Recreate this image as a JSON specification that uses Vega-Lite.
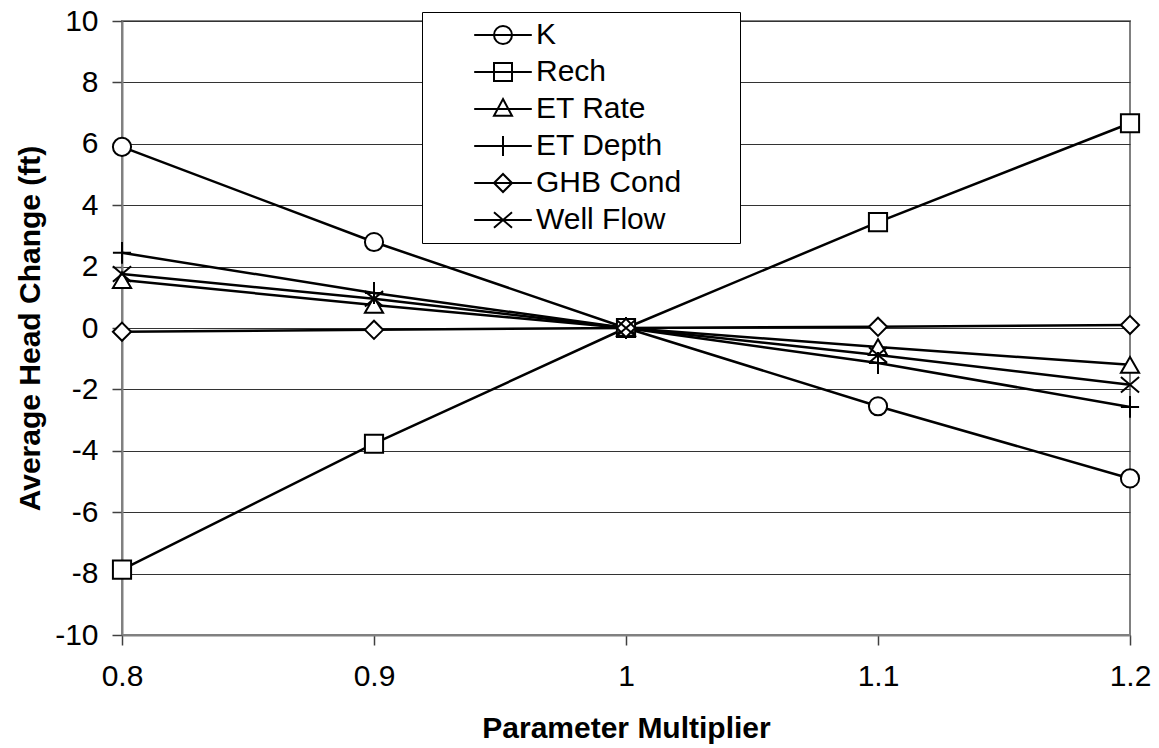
{
  "$schema": "https://vega.github.io/schema/vega-lite/v6.json",
  "width": 1008,
  "height": 614,
  "autosize": {"type": "none"},
  "padding": {"left": 122, "top": 21, "right": 29, "bottom": 113},
  "background": "white",
  "data": {
    "values": [
      {"m": 0.8, "series": "K", "v": 5.9},
      {"m": 0.9, "series": "K", "v": 2.8},
      {"m": 1.0, "series": "K", "v": 0},
      {"m": 1.1, "series": "K", "v": -2.55},
      {"m": 1.2, "series": "K", "v": -4.9},
      {"m": 0.8, "series": "Rech", "v": -7.87},
      {"m": 0.9, "series": "Rech", "v": -3.77},
      {"m": 1.0, "series": "Rech", "v": 0},
      {"m": 1.1, "series": "Rech", "v": 3.45},
      {"m": 1.2, "series": "Rech", "v": 6.67},
      {"m": 0.8, "series": "ET Rate", "v": 1.56},
      {"m": 0.9, "series": "ET Rate", "v": 0.75},
      {"m": 1.0, "series": "ET Rate", "v": 0},
      {"m": 1.1, "series": "ET Rate", "v": -0.62},
      {"m": 1.2, "series": "ET Rate", "v": -1.2},
      {"m": 0.8, "series": "ET Depth", "v": 2.45},
      {"m": 0.9, "series": "ET Depth", "v": 1.14},
      {"m": 1.0, "series": "ET Depth", "v": 0},
      {"m": 1.1, "series": "ET Depth", "v": -1.14},
      {"m": 1.2, "series": "ET Depth", "v": -2.57},
      {"m": 0.8, "series": "GHB Cond", "v": -0.12},
      {"m": 0.9, "series": "GHB Cond", "v": -0.06},
      {"m": 1.0, "series": "GHB Cond", "v": 0},
      {"m": 1.1, "series": "GHB Cond", "v": 0.04},
      {"m": 1.2, "series": "GHB Cond", "v": 0.1},
      {"m": 0.8, "series": "Well Flow", "v": 1.76},
      {"m": 0.9, "series": "Well Flow", "v": 0.95},
      {"m": 1.0, "series": "Well Flow", "v": 0},
      {"m": 1.1, "series": "Well Flow", "v": -0.88},
      {"m": 1.2, "series": "Well Flow", "v": -1.85}
    ]
  },
  "encoding": {
    "x": {
      "field": "m",
      "type": "quantitative",
      "scale": {"domain": [0.8, 1.2], "nice": false, "zero": false},
      "axis": {
        "title": "Parameter Multiplier",
        "values": [0.8, 0.9, 1.0, 1.1, 1.2],
        "format": "~g",
        "grid": false,
        "labelFlush": false,
        "tickSize": 10,
        "labelPadding": 16,
        "titlePadding": 22
      }
    },
    "y": {
      "field": "v",
      "type": "quantitative",
      "scale": {"domain": [-10, 10], "nice": false},
      "axis": {
        "title": "Average Head Change (ft)",
        "values": [-10, -8, -6, -4, -2, 0, 2, 4, 6, 8, 10],
        "labelExpr": "datum.value < 0 ? '-' + abs(datum.value) : '' + datum.value",
        "grid": true,
        "labelFlush": false,
        "tickSize": 10,
        "labelPadding": 14,
        "titlePadding": 9
      }
    }
  },
  "layer": [
    {
      "mark": {"type": "line", "color": "black", "strokeWidth": 2.5},
      "encoding": {"detail": {"field": "series"}}
    },
    {
      "mark": {"type": "point", "filled": false, "fill": "white", "fillOpacity": 1, "stroke": "black", "strokeWidth": 2, "size": 330, "opacity": 1},
      "encoding": {
        "shape": {
          "field": "series",
          "type": "nominal",
          "scale": {
            "domain": ["K", "Rech", "ET Rate", "ET Depth", "GHB Cond", "Well Flow"],
            "range": ["circle", "square", "triangle-up", "M-1,0H1M0,-1.2V1.2", "diamond", "M-1,-0.85L1,0.85M-1,0.85L1,-0.85"]
          },
          "legend": null
        }
      }
    },
    {
      "mark": {"type": "point", "filled": false, "color": "black", "opacity": 0},
      "encoding": {
        "shape": {
          "field": "series",
          "type": "nominal",
          "scale": {
            "domain": ["K", "Rech", "ET Rate", "ET Depth", "GHB Cond", "Well Flow"],
            "range": [
              "M-3.2,0H3.2M1,0A1,1,0,1,1,-1,0A1,1,0,1,1,1,0",
              "M-3.2,0H3.2M-1,-1H1V1H-1Z",
              "M-3.2,0H3.2M0,-1.1L1,0.75H-1Z",
              "M-3.2,0H3.2M0,-1.1V1.1",
              "M-3.2,0H3.2M-1,0L0,-1L1,0L0,1Z",
              "M-3.2,0H3.2M-1,-0.85L1,0.85M-1,0.85L1,-0.85"
            ]
          },
          "legend": {
            "title": null,
            "orient": "none",
            "legendX": 300,
            "legendY": -9,
            "padding": 8,
            "strokeColor": "black",
            "fillColor": "white",
            "symbolSize": 324,
            "symbolStrokeWidth": 2,
            "symbolStrokeColor": "black",
            "symbolFillColor": "white",
            "symbolOpacity": 1,
            "symbolOffset": 58,
            "labelOffset": 18,
            "labelFontSize": 30,
            "labelFont": "Liberation Sans",
            "labelColor": "black",
            "labelLimit": 0,
            "rowPadding": 7,
            "labelExpr": "datum.label + '\u00a0\u00a0\u00a0\u00a0\u00a0\u00a0\u200b'"
          }
        }
      }
    }
  ],
  "resolve": {"scale": {"shape": "independent"}, "legend": {"shape": "independent"}},
  "config": {
    "view": {"stroke": "#808080", "strokeWidth": 2},
    "axis": {
      "labelFont": "Liberation Sans",
      "labelFontSize": 30,
      "labelColor": "black",
      "titleFont": "Liberation Sans",
      "titleFontSize": 30,
      "titleFontWeight": "bold",
      "titleColor": "black",
      "domainColor": "#808080",
      "domainWidth": 2,
      "tickColor": "#404040",
      "tickWidth": 1.5,
      "gridColor": "#333333",
      "gridWidth": 1,
      "gridOpacity": 1
    }
  }
}
